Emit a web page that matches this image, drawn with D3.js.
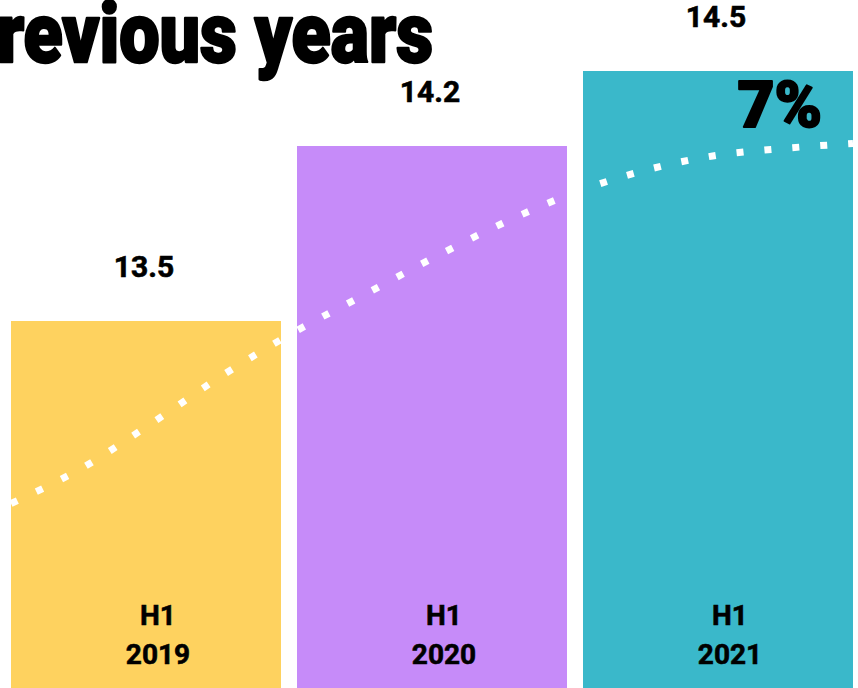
<!DOCTYPE html>
<html>
<head>
<meta charset="utf-8">
<script src="https://cdn.jsdelivr.net/npm/d3@7"></script>
<style>
  html, body { margin: 0; padding: 0; background: #ffffff; overflow: hidden; }
  svg { display: block; }
  text { font-family: Roboto, "DejaVu Sans", sans-serif; fill: #000; }
</style>
</head>
<body>
<svg id="chart" width="858" height="688"></svg>
<script>
// Half-year totals
const periods = ["H1", "H1", "H1"];
const years = ["2019", "2020", "2021"];
const values = [13.5, 14.2, 14.5];
const barColors = ["#FED25F", "#C68BF9", "#3AB8CA"];

// Growth trend drawn across the bars (position in bar units, value units)
const trendPos = [0, 0.25, 0.5, 0.75, 1, 1.25, 1.5, 1.75, 2, 2.25, 2.5, 2.75, 3];
const trendValues = [12.77, 12.91, 13.09, 13.28, 13.45, 13.60, 13.75, 13.89, 14.01, 14.10, 14.16, 14.19, 14.21];

const titleText = "revious years";
const growthText = "7%";

const W = 858, H = 688;
const svg = d3.select("#chart");

const x = d3.scaleBand()
  .domain(years)
  .range([11, 853])
  .paddingInner(16 / 286)
  .paddingOuter(0);

const y = d3.scaleLinear()
  .domain([13.5, 14.5])
  .range([321, 71]);

const xTrend = d3.scaleLinear()
  .domain([0, 3])
  .range([x.range()[0], x.range()[1]]);

// Title (cropped at the left edge)
svg.append("text")
  .attr("x", -3)
  .attr("y", 62)
  .attr("font-size", 84)
  .attr("font-weight", 900)
  .attr("stroke", "#000")
  .attr("stroke-width", 2.5)
  .attr("stroke-linejoin", "round")
  .attr("textLength", 436)
  .attr("lengthAdjust", "spacingAndGlyphs")
  .text(titleText);

// Bars run past the bottom edge
svg.append("g").selectAll("rect")
  .data(values)
  .join("rect")
  .attr("x", (d, i) => x(years[i]))
  .attr("y", d => y(d))
  .attr("width", x.bandwidth())
  .attr("height", d => H + 20 - y(d))
  .attr("fill", (d, i) => barColors[i]);

// Dotted trend line
const line = d3.line()
  .x((d, i) => xTrend(trendPos[i]))
  .y(d => y(d))
  .curve(d3.curveMonotoneX);

svg.append("path")
  .datum(trendValues)
  .attr("d", line)
  .attr("fill", "none")
  .attr("stroke", "#ffffff")
  .attr("stroke-width", 7)
  .attr("stroke-dasharray", "7,21")
  .attr("stroke-linecap", "butt");

// Value labels above the bars
svg.append("g").selectAll("text")
  .data(values)
  .join("text")
  .attr("x", (d, i) => x(years[i]) + x.bandwidth() / 2 - 2)
  .attr("y", d => y(d) - 44)
  .attr("text-anchor", "middle")
  .attr("font-size", 30)
  .attr("font-weight", 700)
  .attr("stroke", "#000")
  .attr("stroke-width", 0.6)
  .text(d => d.toFixed(1));

// Period labels at the foot of each bar
const foot = svg.append("g").selectAll("text")
  .data(years)
  .join("text")
  .attr("text-anchor", "middle")
  .attr("font-size", 28)
  .attr("font-weight", 700)
  .attr("stroke", "#000")
  .attr("stroke-width", 0.6);

foot.append("tspan")
  .attr("x", d => x(d) + x.bandwidth() / 2 + 12)
  .attr("y", 625)
  .text((d, i) => periods[i]);

foot.append("tspan")
  .attr("x", d => x(d) + x.bandwidth() / 2 + 12)
  .attr("y", 664)
  .text(d => d);

// Growth figure
svg.append("text")
  .attr("x", x(years[2]) + x.bandwidth() - 31)
  .attr("y", 127)
  .attr("text-anchor", "end")
  .attr("font-size", 64)
  .attr("font-weight", 900)
  .attr("stroke", "#000")
  .attr("stroke-width", 2)
  .attr("stroke-linejoin", "round")
  .text(growthText);
</script>
</body>
</html>
